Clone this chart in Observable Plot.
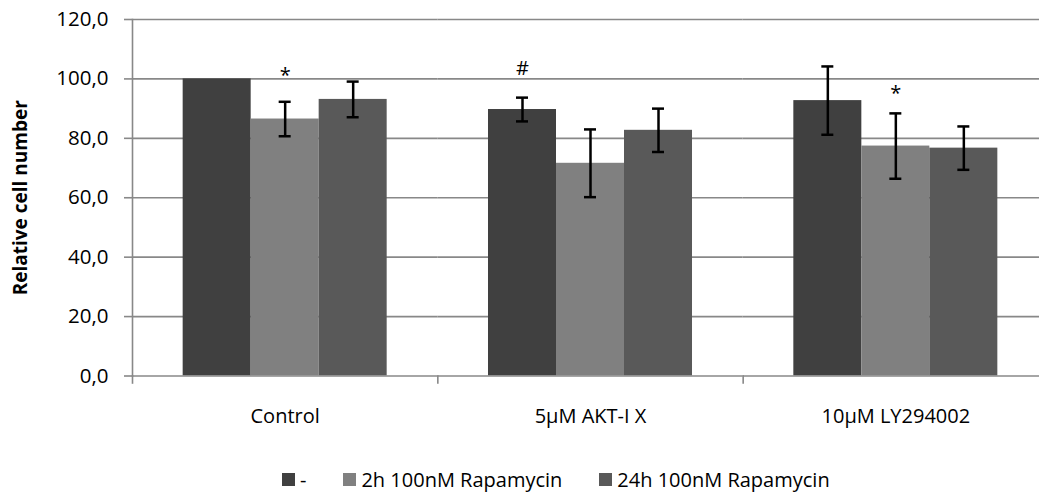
<!DOCTYPE html>
<html>
<head>
<meta charset="utf-8">
<script src="https://cdn.jsdelivr.net/npm/d3@7"></script>
<script src="https://cdn.jsdelivr.net/npm/@observablehq/plot@0.6"></script>
<style>
  html, body { margin: 0; padding: 0; background: #fff; overflow: hidden; }
  #wrap { position: relative; width: 1039px; height: 493px; overflow: hidden; }
  #legend { position: absolute; left: 282px; top: 466px; display: flex; align-items: center;
            font-family: "Open Sans", sans-serif; font-size: 20px; color: #000; white-space: nowrap; }
  #legend .item { display: flex; align-items: center; margin-right: 37px; }
  #legend .sw { width: 13px; height: 13px; margin-right: 5px; display: inline-block; }
</style>
</head>
<body>
<div id="wrap"><div id="chart"></div><div id="legend"></div></div>
<script>
// ---- data ----
const categories = ["Control", "5µM AKT-I X", "10µM LY294002"];
const series = ["-", "2h 100nM Rapamycin", "24h 100nM Rapamycin"];
const colors = ["#404040", "#808080", "#595959"];
const valuesControl = [100, 86.5, 93.1];
const valuesAKT = [89.7, 71.6, 82.7];
const valuesLY = [92.7, 77.4, 76.7];
const errorsControl = [0, 5.8, 6.0];
const errorsAKT = [4.0, 11.4, 7.3];
const errorsLY = [11.5, 11.0, 7.3];
const yTicks = [0, 20, 40, 60, 80, 100, 120];
const sigCategory = ["Control", "5µM AKT-I X", "10µM LY294002"];
const sigSeries = ["2h 100nM Rapamycin", "-", "2h 100nM Rapamycin"];
const sigLabel = ["*", "#", "*"];
const sigValue = [101, 103.4, 95.1];

// ---- build tables ----
const valueRows = [valuesControl, valuesAKT, valuesLY];
const errorRows = [errorsControl, errorsAKT, errorsLY];
const data = categories.flatMap((c, i) => series.map((s, j) => ({
  category: c, series: s, value: valueRows[i][j], error: errorRows[i][j]
})));
const errData = data.filter(d => d.error > 0);
const sig = sigLabel.map((l, i) => ({category: sigCategory[i], series: sigSeries[i], label: l, value: sigValue[i]}));

const H = 445, mTop = 19, mBottom = 69.5;
const plotH = H - mTop - mBottom;
const axisColor = "#888888";
const fmt = d => d.toFixed(1).replace(".", ",");

const chart = Plot.plot({
  width: 1048, height: H,
  marginTop: mTop, marginBottom: mBottom, marginLeft: 132, marginRight: 0,
  style: {fontFamily: "Open Sans, sans-serif", fontSize: "20px", color: "#000", maxWidth: "none", background: "#fff"},
  fx: {domain: categories, paddingInner: 0, paddingOuter: 0, round: false, label: null},
  x: {domain: series, paddingInner: 0, paddingOuter: 0.745, round: false, axis: null},
  y: {domain: [0, 120], label: null},
  color: {domain: series, range: colors},
  marks: [
    Plot.ruleY(yTicks.filter(t => t > 0), {stroke: axisColor, strokeWidth: 1.6}),
    Plot.barY(data, {fx: "category", x: "series", y: "value", fill: "series"}),
    Plot.ruleY([0], {stroke: axisColor, strokeWidth: 1.6}),
    Plot.frame({anchor: "left", stroke: axisColor, strokeWidth: 1.6, insetTop: plotH, insetBottom: -7}),
    Plot.frame({anchor: "left", stroke: axisColor, strokeWidth: 1.6, facetAnchor: "left"}),
    Plot.ruleX(errData, {fx: "category", x: "series", y1: d => d.value - d.error, y2: d => d.value + d.error, stroke: "#000", strokeWidth: 2.5}),
    Plot.tickY(errData, {fx: "category", x: "series", y: d => d.value + d.error, stroke: "#000", strokeWidth: 2.5, insetLeft: 28, insetRight: 28}),
    Plot.tickY(errData, {fx: "category", x: "series", y: d => d.value - d.error, stroke: "#000", strokeWidth: 2.5, insetLeft: 28, insetRight: 28}),
    Plot.text(sig, {fx: "category", x: "series", y: "value", text: "label", fontSize: 20, fill: "#000"}),
    Plot.axisY({ticks: yTicks, tickSize: 8, tickPadding: 16, tickFormat: fmt, stroke: axisColor, strokeWidth: 1.6, label: null, fontSize: 20.5}),
    Plot.axisFx({anchor: "bottom", tickSize: 0, tickPadding: 33, label: null, fontSize: 20}),
    Plot.text(["Relative cell number"], {frameAnchor: "left", facetAnchor: "left", dx: -112, rotate: -90, textAnchor: "middle", fontWeight: "bold", fontSize: 19, fill: "#000"})
  ]
});
document.getElementById("chart").appendChild(chart);

// ---- legend ----
const legend = document.getElementById("legend");
series.forEach((s, i) => {
  const item = document.createElement("span");
  item.className = "item";
  const sw = document.createElement("span");
  sw.className = "sw";
  sw.style.background = colors[i];
  item.appendChild(sw);
  item.appendChild(document.createTextNode(s));
  legend.appendChild(item);
});
</script>
</body>
</html>
